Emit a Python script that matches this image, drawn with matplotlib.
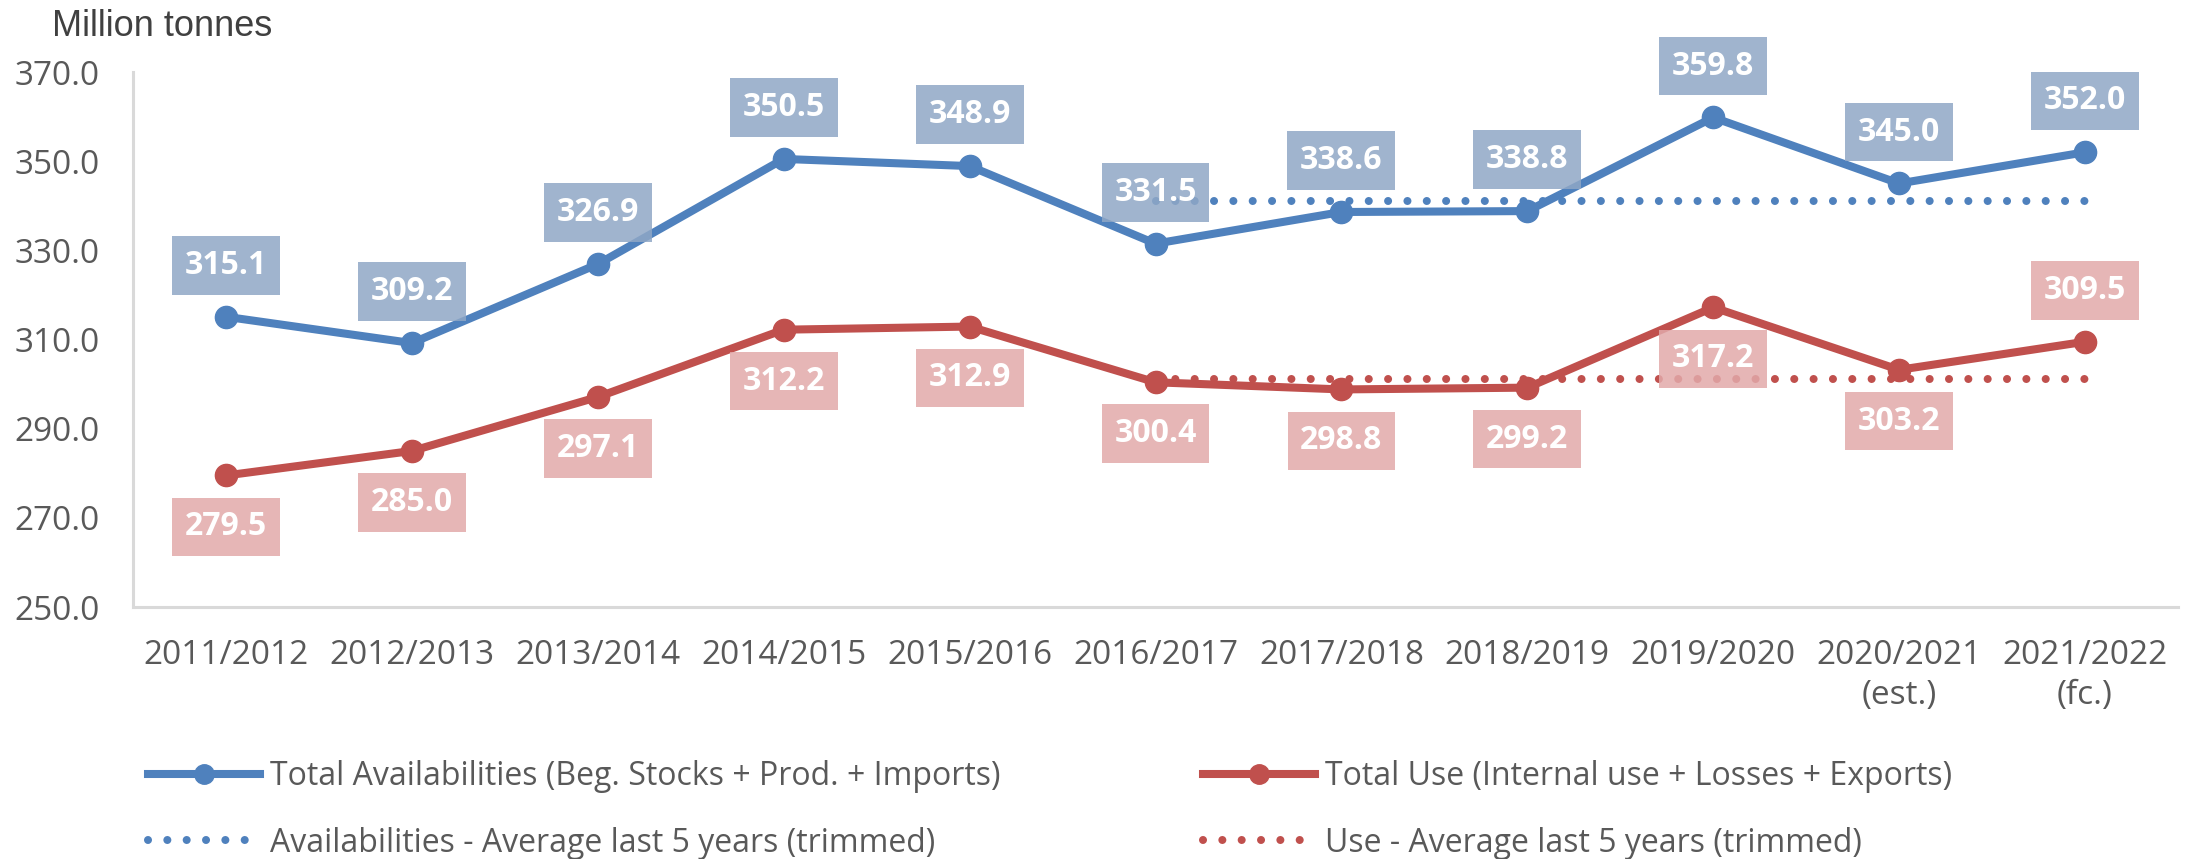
import matplotlib

matplotlib.use("Agg")
import matplotlib.pyplot as plt  # noqa: E402
from matplotlib.lines import Line2D  # noqa: E402

seasons = ["2011/2012", "2012/2013", "2013/2014", "2014/2015", "2015/2016",
           "2016/2017", "2017/2018", "2018/2019", "2019/2020",
           "2020/2021\n(est.)", "2021/2022\n(fc.)"]
availabilities = [315.1, 309.2, 326.9, 350.5, 348.9, 331.5, 338.6, 338.8, 359.8, 345.0, 352.0]
total_use = [279.5, 285.0, 297.1, 312.2, 312.9, 300.4, 298.8, 299.2, 317.2, 303.2, 309.5]
# label side for the use series: -1 below the point, +1 above
use_label_side = [-1, -1, -1, -1, -1, -1, -1, -1, -1, -1, 1]
avg_span = [5, 10]
avail_avg = 341.1
use_avg = 301.1

BLUE = "#4F81BD"
RED = "#C0504D"
BLUE_BOX = "#8FA7C6"
RED_BOX = "#E2A9AA"
GREY_TXT = "#595959"

plt.rcParams["font.family"] = ["Open Sans", "DejaVu Sans"]

fig = plt.figure(figsize=(21.95, 8.59), dpi=100)
ax = fig.add_axes([133 / 2195, 1 - 607 / 859, 2045 / 2195, 535 / 859])

x = list(range(len(seasons)))
lw = 5.8
ms = 16
dots = dict(linestyle=(0, (0.001, 2.4)), dash_capstyle="round", lw=lw)

ax.plot(avg_span, [avail_avg, avail_avg], color=BLUE, zorder=2, **dots)
ax.plot(avg_span, [use_avg, use_avg], color=RED, zorder=2, **dots)
ax.plot(x, availabilities, color=BLUE, lw=lw, marker="o", ms=ms, zorder=3,
        solid_joinstyle="round")
ax.plot(x, total_use, color=RED, lw=lw, marker="o", ms=ms, zorder=3,
        solid_joinstyle="round")


def label(xi, yi, side, box):
    ax.annotate(f"{yi:.1f}", (xi, yi), xytext=(0, 37 * side),
                textcoords="offset points", ha="center", va="center",
                fontsize=23, fontweight="bold", color="white", zorder=4,
                bbox=dict(boxstyle="square,pad=0.4", fc=box, ec="none", alpha=0.85))


for xi, yi in zip(x, availabilities):
    label(xi, yi, 1, BLUE_BOX)
for xi, yi, s in zip(x, total_use, use_label_side):
    label(xi, yi, s, RED_BOX)

ax.set_xlim(-0.5, len(seasons) - 0.5)
ax.set_ylim(250, 370)
ax.set_yticks(range(250, 371, 20))
ax.yaxis.set_major_formatter(matplotlib.ticker.FormatStrFormatter("%.1f"))
ax.set_xticks(x)
ax.set_xticklabels(seasons)
ax.tick_params(axis="both", length=0, labelsize=24, labelcolor=GREY_TXT)
ax.tick_params(axis="y", pad=24)
ax.tick_params(axis="x", pad=23)
for t in ax.get_xticklabels():
    t.set_linespacing(1.3)
for side in ("top", "right"):
    ax.spines[side].set_visible(False)
for side in ("left", "bottom"):
    ax.spines[side].set_color("#D9D9D9")
    ax.spines[side].set_linewidth(2.2)

fig.text(52 / 2195, 1 - 36 / 859, "Million tonnes", fontsize=26,
         family="Liberation Sans", color="#404040", va="baseline")

h_avail = Line2D([], [], color=BLUE, lw=lw, marker="o", ms=14)
h_use = Line2D([], [], color=RED, lw=lw, marker="o", ms=14)
h_aavg = Line2D([], [], color=BLUE, **dots)
h_uavg = Line2D([], [], color=RED, **dots)

leg_kw = dict(loc="upper left", frameon=False, fontsize=23, labelcolor=GREY_TXT,
              handlelength=3.5, handletextpad=0.32, borderpad=0, borderaxespad=0,
              labelspacing=1.05)
fig.legend([h_avail, h_aavg],
           ["Total Availabilities (Beg. Stocks + Prod. + Imports)",
            "Availabilities - Average last 5 years (trimmed)"],
           bbox_to_anchor=(148 / 2195, 1 - 760 / 859), **leg_kw)
fig.legend([h_use, h_uavg],
           ["Total Use (Internal use + Losses + Exports)",
            "Use - Average last 5 years (trimmed)"],
           bbox_to_anchor=(1203 / 2195, 1 - 760 / 859), **leg_kw)

fig.savefig("out.png", dpi=100)
